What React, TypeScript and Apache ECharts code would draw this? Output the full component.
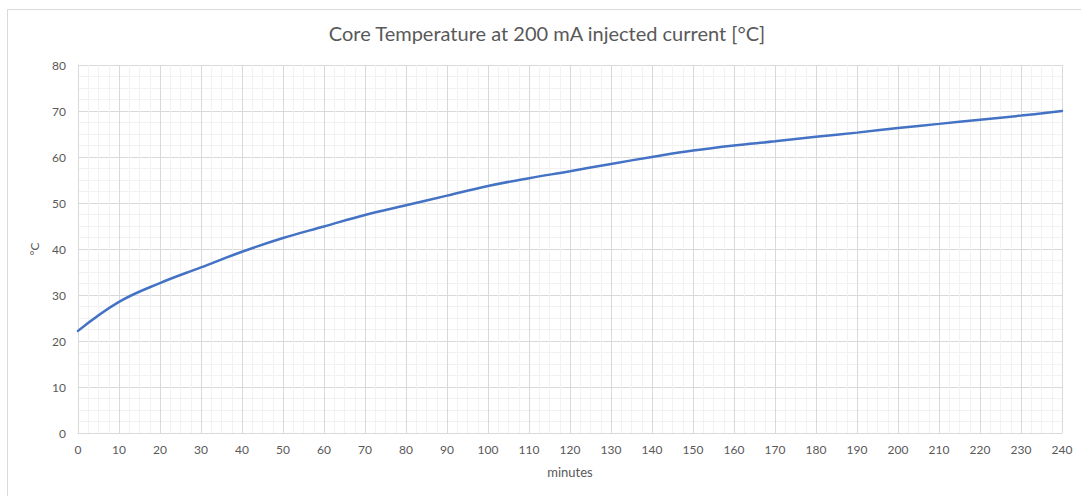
import React, { useEffect, useRef } from "react";
import * as echarts from "echarts";

const minutes = [0, 10, 20, 30, 40, 50, 60, 70, 80, 90, 100, 110, 120, 130, 140, 150, 160, 170, 180, 190, 200, 210, 220, 230, 240];
const temperature = [22.2, 28.5, 32.6, 36.0, 39.4, 42.4, 44.9, 47.4, 49.5, 51.6, 53.7, 55.4, 56.9, 58.5, 60.0, 61.4, 62.5, 63.4, 64.4, 65.3, 66.3, 67.2, 68.1, 69.0, 70.0];

const titleText = "Core Temperature at 200 mA injected current [°C]";
const xName = "minutes";
const yName = "°C";

export default function App() {
  const ref = useRef<HTMLDivElement>(null);
  useEffect(() => {
    if (!ref.current) return;
    const chart = echarts.init(ref.current, null, { renderer: "svg" });
    const font = "Lato, 'Open Sans', sans-serif";
    const textColor = "#595959";
    chart.setOption({
      animation: false,
      backgroundColor: "#ffffff",
      textStyle: { fontFamily: font },
      title: {
        text: titleText,
        left: 542,
        top: 18,
        textAlign: "center",
        textStyle: { fontFamily: font, fontSize: 20, fontWeight: "normal", color: textColor },
      },
      graphic: [
        {
          type: "rect",
          shape: { x: 7.5, y: 9.5, width: 1200, height: 700 },
          style: { fill: "none", stroke: "#D9D9D9", lineWidth: 1 },
          silent: true,
        },
      ],
      grid: { left: 78, right: 19, top: 65, bottom: 63, containLabel: false },
      xAxis: {
        type: "value",
        min: 0,
        max: 240,
        interval: 10,
        name: xName,
        nameLocation: "middle",
        nameGap: 32,
        nameTextStyle: { fontFamily: font, fontSize: 13, color: textColor },
        axisLine: { show: true, lineStyle: { color: "#D9D9D9", width: 1 } },
        axisTick: { show: false },
        axisLabel: { fontFamily: font, fontSize: 12, color: textColor, margin: 10 },
        splitLine: { show: true, lineStyle: { color: "#D9D9D9", width: 1 } },
        minorTick: { show: false, splitNumber: 4 },
        minorSplitLine: { show: true, lineStyle: { color: "#F2F2F2", width: 1 } },
      },
      yAxis: {
        type: "value",
        min: 0,
        max: 80,
        interval: 10,
        name: yName,
        nameLocation: "middle",
        nameRotate: 90,
        nameGap: 38,
        nameTextStyle: { fontFamily: font, fontSize: 12, color: textColor },
        axisLine: { show: true, lineStyle: { color: "#D9D9D9", width: 1 } },
        axisTick: { show: false },
        axisLabel: { fontFamily: font, fontSize: 12, color: textColor, margin: 12 },
        splitLine: { show: true, lineStyle: { color: "#D9D9D9", width: 1 } },
        minorTick: { show: false, splitNumber: 4 },
        minorSplitLine: { show: true, lineStyle: { color: "#F2F2F2", width: 1 } },
      },
      series: [
        {
          type: "line",
          data: minutes.map((m, i) => [m, temperature[i]]),
          smooth: 0.4,
          showSymbol: false,
          symbol: "none",
          lineStyle: { color: "#4472C4", width: 2.5, cap: "round" },
        },
      ],
    });
    return () => chart.dispose();
  }, []);
  return (
    <div
      ref={ref}
      style={{ position: "fixed", left: 0, top: 0, width: 1081, height: 496 }}
    />
  );
}
